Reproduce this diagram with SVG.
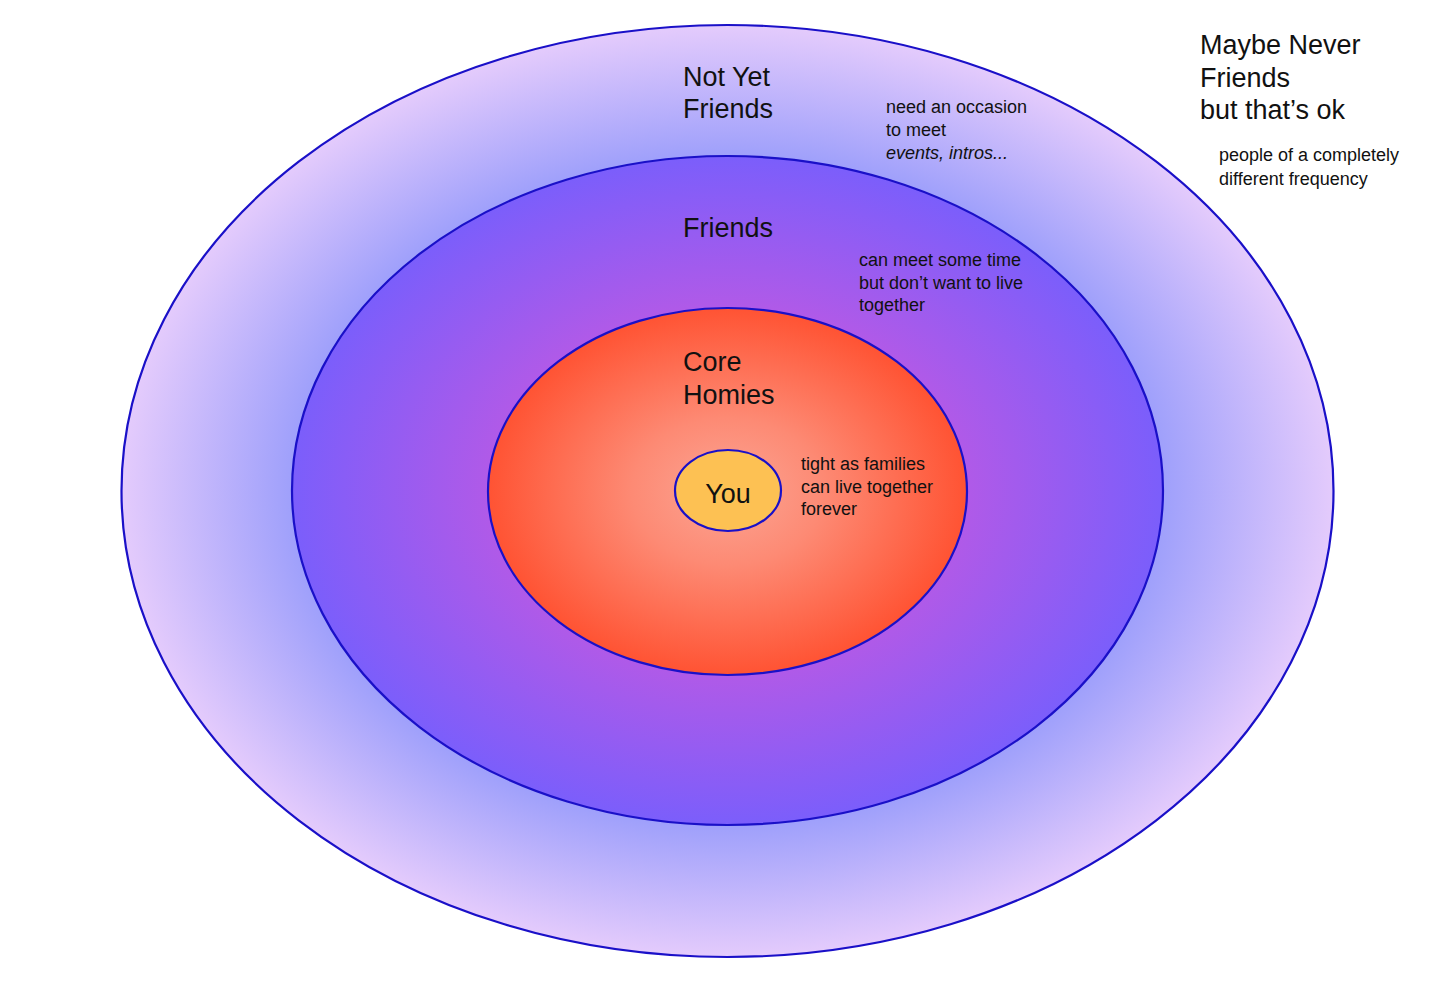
<svg xmlns="http://www.w3.org/2000/svg" width="1456" height="982" viewBox="0 0 1456 982">
<defs>
<radialGradient id="gOuter" cx="0.5" cy="0.5" r="0.5">
<stop offset="0" stop-color="#7a6cf8"/>
<stop offset="0.72" stop-color="#9fa0fb"/>
<stop offset="1" stop-color="#e4cbfc"/>
</radialGradient>
<radialGradient id="gFriends" cx="0.5" cy="0.5" r="0.5">
<stop offset="0" stop-color="#c65ae0"/>
<stop offset="0.55" stop-color="#b05ae8"/>
<stop offset="1" stop-color="#7b5efb"/>
</radialGradient>
<radialGradient id="gCore" cx="0.5" cy="0.5" r="0.5">
<stop offset="0" stop-color="#fba594"/>
<stop offset="0.4" stop-color="#fd8a74"/>
<stop offset="1" stop-color="#ff5333"/>
</radialGradient>
<style>
.ring{stroke:#1a10c8;stroke-width:2.2}
.title{font-family:"Liberation Sans",Arial,sans-serif;font-size:27px;fill:#111}
.note{font-family:"Liberation Sans",Arial,sans-serif;font-size:18px;fill:#111}
</style>
</defs>
<rect width="1456" height="982" fill="#ffffff"/>
<g id="maybe-never">
<ellipse class="ring" cx="727.5" cy="491" rx="606" ry="466" fill="url(#gOuter)"/>
</g>
<g id="friends">
<ellipse class="ring" cx="727.5" cy="490.5" rx="435.5" ry="334.5" fill="url(#gFriends)"/>
</g>
<g id="core-homies">
<ellipse class="ring" cx="727.5" cy="491.5" rx="239.5" ry="183.5" fill="url(#gCore)"/>
</g>
<g id="you">
<ellipse class="ring" cx="728" cy="490.5" rx="53" ry="40.5" fill="#fdc153"/>
<text class="title" x="728" y="503" text-anchor="middle">You</text>
</g>
<g id="labels">
<text class="title" x="683" y="86">Not Yet</text>
<text class="title" x="683" y="118">Friends</text>
<text class="note" x="886" y="113">need an occasion</text>
<text class="note" x="886" y="136">to meet</text>
<text class="note" x="886" y="159" font-style="italic">events, intros...</text>
<text class="title" x="1200" y="54">Maybe Never</text>
<text class="title" x="1200" y="87">Friends</text>
<text class="title" x="1200" y="119">but that’s ok</text>
<text class="note" x="1219" y="161">people of a completely</text>
<text class="note" x="1219" y="185">different frequency</text>
<text class="title" x="683" y="237">Friends</text>
<text class="note" x="859" y="266">can meet some time</text>
<text class="note" x="859" y="289">but don’t want to live</text>
<text class="note" x="859" y="311">together</text>
<text class="title" x="683" y="371">Core</text>
<text class="title" x="683" y="404">Homies</text>
<text class="note" x="801" y="470">tight as families</text>
<text class="note" x="801" y="493">can live together</text>
<text class="note" x="801" y="515">forever</text>
</g>
</svg>
